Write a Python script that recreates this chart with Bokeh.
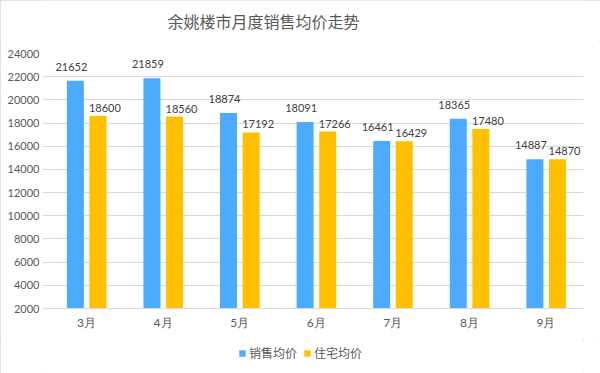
from bokeh.plotting import figure
from bokeh.layouts import column
from bokeh.core.properties import value
from bokeh.models import (ColumnDataSource, Range1d, FixedTicker, Legend, LegendItem,
                          LabelSet, Label)
from bokeh.transform import dodge
from bokeh.embed import file_html
from bokeh.resources import INLINE

title_text = "余姚楼市月度销售均价走势"
months = ["3月", "4月", "5月", "6月", "7月", "8月", "9月"]
sales_avg = [21652, 21859, 18874, 18091, 16461, 18365, 14887]
house_avg = [18600, 18560, 17192, 17266, 16429, 17480, 14870]
y_ticks = list(range(2000, 24001, 2000))
series_names = ["销售均价", "住宅均价"]

BLUE = "#4dabff"
GOLD = "#ffc000"
GRAY = "#595959"
GRID = "#d9d9d9"
NUM_FONT = "Lato"
CJK_FONT = "Noto Sans CJK SC"

idx = list(range(len(months)))
src = ColumnDataSource(dict(
    x=idx, s=sales_avg, h=house_avg,
    sl=[str(v) for v in sales_avg], hl=[str(v) for v in house_avg],
))


def strip(height, yr):
    f = figure(width=600, height=height, output_backend="svg", toolbar_location=None,
               x_range=Range1d(-20, -19), y_range=yr,
               x_axis_location=None, y_axis_location=None,
               min_border=0, min_border_left=0, min_border_right=0,
               min_border_top=0, min_border_bottom=0)
    f.grid.visible = False
    f.outline_line_color = None
    return f


# ---- title strip ----
tf = strip(40, Range1d(0, 1))
tf.add_layout(Label(x=125, y=20, x_units="screen", y_units="screen", text=title_text,
                    text_align="left", text_baseline="middle", text_font=CJK_FONT,
                    text_font_size="16px", text_color=GRAY))

# ---- main chart ----
p = figure(width=600, height=300, output_backend="svg", toolbar_location=None,
           x_range=Range1d(-0.574, 6.49), y_range=Range1d(y_ticks[0], y_ticks[-1]),
           min_border_left=42, min_border_right=17, min_border_top=13,
           min_border_bottom=32)

base = y_ticks[0]
r1 = p.vbar(x=dodge("x", -0.145, range=p.x_range), top="s", bottom=base, width=0.222,
            source=src, fill_color=BLUE, line_color=None)
r2 = p.vbar(x=dodge("x", 0.15, range=p.x_range), top="h", bottom=base, width=0.222,
            source=src, fill_color=GOLD, line_color=None)

l1 = LabelSet(x=dodge("x", -0.145, range=p.x_range), y="s", text="sl", source=src,
              x_offset=-4, y_offset=14, text_align="center", text_baseline="middle",
              text_font=value(NUM_FONT), text_font_size=value("11px"),
              text_color="#404040")
l2 = LabelSet(x=dodge("x", 0.15, range=p.x_range), y="h", text="hl", source=src,
              x_offset=7, y_offset=8, text_align="center", text_baseline="middle",
              text_font=value(NUM_FONT), text_font_size=value("11px"),
              text_color="#404040")
p.add_layout(l1)
p.add_layout(l2)

p.xgrid.visible = False
p.ygrid.ticker = FixedTicker(ticks=y_ticks)
p.ygrid.grid_line_color = GRID
p.outline_line_color = None

p.yaxis.ticker = FixedTicker(ticks=y_ticks)
p.yaxis.axis_line_color = None
p.yaxis.major_tick_line_color = None
p.yaxis.minor_tick_line_color = None
p.yaxis.major_tick_out = 0
p.yaxis.major_label_standoff = 3
p.yaxis.major_label_text_font = NUM_FONT
p.yaxis.major_label_text_font_size = "11px"
p.yaxis.major_label_text_color = GRAY

p.xaxis.ticker = FixedTicker(ticks=idx)
p.xaxis.major_label_overrides = {i: m for i, m in zip(idx, months)}
p.xaxis.axis_line_color = GRID
p.xaxis.major_tick_line_color = None
p.xaxis.minor_tick_line_color = None
p.xaxis.major_tick_out = 0
p.xaxis.major_label_standoff = 6
p.xaxis.major_label_text_font = NUM_FONT
p.xaxis.major_label_text_font_size = "12px"
p.xaxis.major_label_text_color = GRAY

# ---- legend strip ----
lf = strip(33, Range1d(-2, -1))
lr1 = lf.vbar(x="x", top="s", bottom=base, width=0.1, source=src,
              fill_color=BLUE, line_color=None)
lr2 = lf.vbar(x="x", top="h", bottom=base, width=0.1, source=src,
              fill_color=GOLD, line_color=None)
legend = Legend(items=[LegendItem(label=series_names[0], renderers=[lr1]),
                       LegendItem(label=series_names[1], renderers=[lr2])],
                orientation="horizontal", location=(196, 12),
                glyph_width=8, glyph_height=8, label_standoff=3, spacing=6,
                label_text_font=CJK_FONT, label_text_font_size="12px",
                label_text_color=GRAY, border_line_color=None,
                background_fill_alpha=0, padding=0, margin=0)
lf.add_layout(legend)

layout = column(tf, p, lf, spacing=0)
layout.styles = {"outline": "1px solid #d9d9d9", "outline-offset": "-1px"}

open("out.html", "w").write(file_html(layout, INLINE))
